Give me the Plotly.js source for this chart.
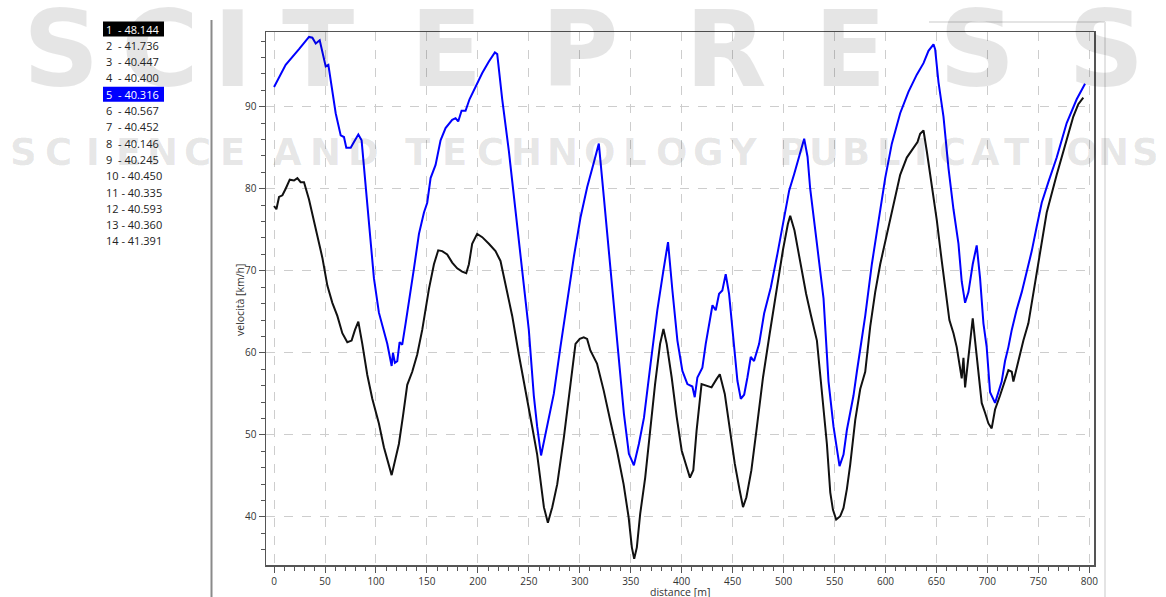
<!DOCTYPE html>
<html>
<head>
<meta charset="utf-8">
<script src="https://cdn.plot.ly/plotly-3.0.1.min.js"></script>
<style>
html,body{margin:0;padding:0;background:#fff;}
#chart{width:1166px;height:597px;}
</style>
</head>
<body>
<div id="chart"></div>
<script>
// ---- data ----
const blueDist = [0,11.4,24.5,34.3,37.6,40.9,44.8,47.4,50.7,53.3,57.2,60.5,65.4,68.6,70.9,75.2,78.4,82.7,85.9,89.9,94.8,98.0,102.9,107.8,111.1,115.4,116.7,118.6,120.9,123.2,125.8,129.1,132.4,137.3,142.2,147.1,150.3,153.6,158.5,163.4,168.3,174.8,178.1,180.7,184.0,187.9,191.8,197.7,204.3,210.8,216.7,219.0,223.9,230.4,236.9,243.5,250.0,254.9,258.2,262.0,268.0,274.5,281.0,287.7,294.2,300.7,307.3,313.8,318.7,323.6,330.2,336.8,343.3,348.2,353.1,358.0,363.0,369.5,376.1,382.0,386.6,390.9,395.8,400.7,405.6,410.5,412.8,415.4,420.3,423.6,426.9,430.2,433.4,436.7,439.9,443.2,446.5,451.4,454.7,458.0,461.3,464.5,467.8,471.0,476.0,480.9,487.5,494.0,500.6,505.5,510.4,515.3,520.2,523.5,526.1,532.7,539.2,544.1,549.0,554.9,558.8,562.1,565.4,568.6,571.9,575.2,580.1,586.6,593.1,599.7,606.2,614.4,622.5,630.7,637.3,642.2,647.1,648.7,652.0,656.9,661.8,666.7,671.6,674.8,678.1,681.4,685.6,689.5,692.8,696.1,699.3,702.6,707.5,710.8,714.0,717.3,720.6,723.9,728.8,733.7,738.6,743.5,748.4,753.3,759.8,768.0,777.8,787.6,795.8];
const blueSpeed = [92.4,95.1,97.0,98.5,98.4,97.7,98.1,96.8,94.9,95.1,91.8,89.2,86.5,86.3,85.0,85.0,85.7,86.6,85.9,80.4,74.1,69.1,64.9,62.4,61.1,58.4,60.0,58.8,59.0,61.3,61.0,63.6,66.1,70.3,74.5,77.1,78.3,81.3,82.9,85.9,87.4,88.4,88.6,88.2,89.5,89.5,90.9,92.4,94.1,95.5,96.6,96.4,90.9,84.6,77.1,69.9,62.8,54.8,51.0,47.5,51.1,55.0,60.7,66.4,71.7,76.5,80.2,83.2,85.5,79.0,70.0,61.1,52.6,47.7,46.3,48.9,52.1,58.7,65.2,70.0,73.5,67.6,61.5,57.8,56.2,55.9,54.6,57.0,58.2,61.1,63.5,65.8,65.2,67.2,67.6,69.6,67.2,60.7,56.6,54.4,54.9,57.0,59.5,59.0,61.1,64.8,68.0,72.1,76.5,79.8,81.8,83.9,86.1,83.9,80.0,73.3,66.6,56.5,51.0,46.2,47.6,50.6,52.7,54.8,57.7,60.3,64.5,70.8,76.2,81.3,85.5,89.2,91.8,93.9,95.3,96.8,97.6,97.0,93.0,88.8,82.5,77.5,73.3,68.7,66.1,67.4,70.8,73.1,69.1,63.6,60.7,55.2,53.9,55.2,56.5,59.0,60.7,62.8,65.3,67.4,69.9,72.4,75.4,78.3,80.8,83.8,88.0,90.9,92.8];

const blackDist = [0,2.3,4.9,8.2,11.4,15.4,19.6,22.9,26.1,29.4,34.3,40.9,47.4,52.3,57.2,62.1,67.0,71.9,76.1,79.4,82.7,86.6,91.5,96.4,102.9,107.8,112.1,115.4,119.3,122.5,126.5,130.7,135.6,140.5,145.4,152.0,156.9,161.1,165.0,169.9,174.8,179.7,184.6,188.6,191.2,194.4,199.3,204.3,210.8,217.3,222.2,227.1,233.7,240.2,246.7,253.3,258.2,261.6,264.8,268.7,273.0,277.9,284.4,290.9,295.8,300.0,303.9,307.2,310.4,316.9,323.5,330.0,336.5,343.0,347.9,351.1,353.4,356.0,359.3,364.2,369.0,373.9,378.8,382.1,385.3,390.2,395.1,400.0,404.9,408.1,411.4,414.6,419.5,424.4,429.3,434.2,437.4,442.3,447.2,452.1,457.0,460.2,463.5,468.4,473.3,479.8,486.3,492.8,499.3,504.2,506.5,510.7,515.6,522.1,527.0,532.7,537.6,542.5,545.8,548.4,551.6,555.6,558.8,562.1,565.4,570.3,575.2,580.1,585.0,589.9,594.8,601.3,607.8,614.4,620.9,627.5,631.4,634.0,637.3,640.5,645.4,650.3,655.2,660.1,662.7,666.7,669.9,674.8,676.5,678.1,681.4,683.0,685.6,687.9,691.2,694.4,697.7,701.0,704.2,707.5,712.4,717.3,720.6,723.9,725.5,730.4,735.3,740.2,745.1,751.6,758.2,768.0,777.8,784.3,789.2,794.1];
const blackSpeed = [77.9,77.5,79.0,79.2,80.0,81.1,81.0,81.3,80.8,80.8,78.7,75.0,71.6,68.2,66.1,64.5,62.4,61.3,61.5,62.8,63.8,61.1,57.3,54.4,51.4,48.5,46.6,45.1,47.2,48.9,52.3,56.1,57.7,59.8,62.8,67.8,70.8,72.5,72.4,72.0,71.0,70.3,69.9,69.7,70.8,73.3,74.5,74.1,73.3,72.4,71.2,68.2,64.5,59.8,55.2,51.0,47.6,44.4,41.2,39.3,41.2,44.0,49.7,56.2,61.1,61.7,61.9,61.7,60.3,58.7,55.4,51.7,48.1,44.0,40.0,36.3,34.9,36.3,40.4,44.8,50.5,56.2,61.1,62.9,61.1,57.0,52.2,48.1,46.1,44.8,45.7,50.5,56.2,56.0,55.8,56.8,57.4,55.0,50.5,46.5,43.2,41.2,42.4,45.7,50.5,57.0,62.3,67.6,72.5,75.7,76.7,74.9,71.7,67.2,64.5,61.5,55.2,48.9,43.0,40.9,39.7,40.1,41.1,43.4,46.4,51.8,55.6,57.7,63.2,67.4,70.8,74.5,77.9,81.7,83.8,85.0,85.7,86.7,87.1,84.6,80.4,76.2,71.2,66.6,64.0,62.4,60.7,56.9,59.4,55.8,59.8,61.1,64.2,61.5,57.3,53.9,52.7,51.4,50.8,53.1,54.8,56.5,57.9,57.7,56.5,59.0,61.5,63.6,67.4,72.4,77.1,81.7,85.9,88.8,90.3,91.1];

const lapNumbers = ["1","2","3","4","5","6","7","8","9","10","11","12","13","14"];
const lapValues = ["48.144","41.736","40.447","40.400","40.316","40.567","40.452","40.146","40.245","40.450","40.335","40.593","40.360","41.391"];
const highlighted = {"1":"#000000","5":"#0000ff"};

const xTitle = "distance [m]";
const yTitle = "velocità [km/h]";
const watermarkTop = "SCITEPRESS";
const watermarkWords = ["SCIENCE","AND","TECHNOLOGY","PUBLICATIONS"];

// ---- layout helpers (pixel -> paper) ----
const Lp = 266, Rp = 1094, Tp = 32, Bp = 565;
const fx = x => (x - Lp) / (Rp - Lp);
const fy = y => (Bp - y) / (Bp - Tp);

const traces = [
  {x: blackDist, y: blackSpeed, type: 'scatter', mode: 'lines',
   line: {color: '#111111', width: 2}, hoverinfo: 'skip'},
  {x: blueDist, y: blueSpeed, type: 'scatter', mode: 'lines',
   line: {color: '#0000ff', width: 2}, hoverinfo: 'skip'}
];

const annotations = [];
const shapes = [];

// watermark (drawn first so list and titles sit on top)
const wmColor = 'rgba(0,0,0,0.10)';
const topCenters = [61, 160, 232, 318, 446, 580, 726, 850, 977, 1106];
watermarkTop.split('').forEach((ch, i) => {
  annotations.push({xref: 'paper', yref: 'paper', x: fx(topCenters[i]), y: fy(50),
    xanchor: 'center', yanchor: 'middle', showarrow: false, text: ch,
    font: {family: 'DejaVu Sans', size: 106, color: wmColor, weight: 'bold'}});
});
const wordSpans = [[6, 250], [268, 382], [400, 762], [776, 1162]];
watermarkWords.forEach((w, k) => {
  const [a, b] = wordSpans[k];
  const st = (b - a) / w.length;
  w.split('').forEach((ch, i) => {
    annotations.push({xref: 'paper', yref: 'paper', x: fx(a + st * (i + 0.5)), y: fy(152),
      xanchor: 'center', yanchor: 'middle', showarrow: false, text: ch,
      font: {family: 'DejaVu Sans', size: 37, color: wmColor, weight: 'bold'}});
  });
});

// lap list
lapNumbers.forEach((n, i) => {
  const yc = 29 + 16.3 * i;
  const sep = n.length === 1 ? "\u00a0\u00a0- " : " - ";
  const hl = highlighted[n];
  if (hl) {
    shapes.push({type: 'rect', xref: 'paper', yref: 'paper',
      x0: fx(103), x1: fx(164), y0: fy(yc - 7.5), y1: fy(yc + 7.5),
      fillcolor: hl, line: {width: 0}, layer: 'above'});
  }
  annotations.push({xref: 'paper', yref: 'paper', x: fx(104), y: fy(yc),
    xanchor: 'left', yanchor: 'middle', showarrow: false,
    text: n + sep + lapValues[i],
    font: {family: 'Open Sans, sans-serif', size: 11, color: hl ? '#ffffff' : '#222222'}});
});

// separator lines
shapes.push({type: 'line', xref: 'paper', yref: 'paper',
  x0: fx(211.5), x1: fx(211.5), y0: fy(20), y1: fy(597),
  line: {color: '#8a8a8a', width: 2}});
shapes.push({type: 'line', xref: 'paper', yref: 'paper',
  x0: fx(1105), x1: fx(1105), y0: fy(22), y1: fy(597),
  line: {color: '#e4e4e4', width: 2}});
shapes.push({type: 'line', xref: 'paper', yref: 'paper',
  x0: fx(929), x1: fx(1105), y0: fy(22), y1: fy(22),
  line: {color: '#e4e4e4', width: 2}});

// axis titles
annotations.push({xref: 'paper', yref: 'paper', x: fx(680), y: fy(592),
  xanchor: 'center', yanchor: 'middle', showarrow: false, text: xTitle,
  font: {family: 'Open Sans, sans-serif', size: 10.5, color: '#333'}});
annotations.push({xref: 'paper', yref: 'paper', x: fx(240), y: fy(300),
  xanchor: 'center', yanchor: 'middle', showarrow: false, text: yTitle, textangle: -90,
  font: {family: 'Open Sans, sans-serif', size: 10.5, color: '#333'}});

const axisCommon = {
  showline: true, linecolor: '#555555', linewidth: 1.5, mirror: true,
  ticks: 'outside', ticklen: 6, tickwidth: 1, tickcolor: '#555555',
  showgrid: true, gridcolor: '#cdcdcd', griddash: 'dash', gridwidth: 1,
  zeroline: false, fixedrange: true,
  tickfont: {family: 'Open Sans, sans-serif', size: 10, color: '#333333'}
};

const layout = {
  width: 1166, height: 597,
  margin: {l: Lp, r: 1166 - Rp, t: Tp, b: 597 - Bp, pad: 0},
  paper_bgcolor: '#ffffff', plot_bgcolor: '#ffffff',
  showlegend: false,
  xaxis: Object.assign({}, axisCommon, {
    range: [-7.9, 804.6], tick0: 0, dtick: 50,
    minor: {dtick: 10, ticklen: 4, tickcolor: '#555555', showgrid: false, ticks: 'outside'}
  }),
  yaxis: Object.assign({}, axisCommon, {
    range: [34.15, 99.1], tick0: 0, dtick: 10,
    minor: {dtick: 2, ticklen: 4, tickcolor: '#555555', showgrid: false, ticks: 'outside'}
  }),
  annotations: annotations,
  shapes: shapes
};

Plotly.newPlot('chart', traces, layout, {displayModeBar: false, staticPlot: true});
</script>
</body>
</html>
